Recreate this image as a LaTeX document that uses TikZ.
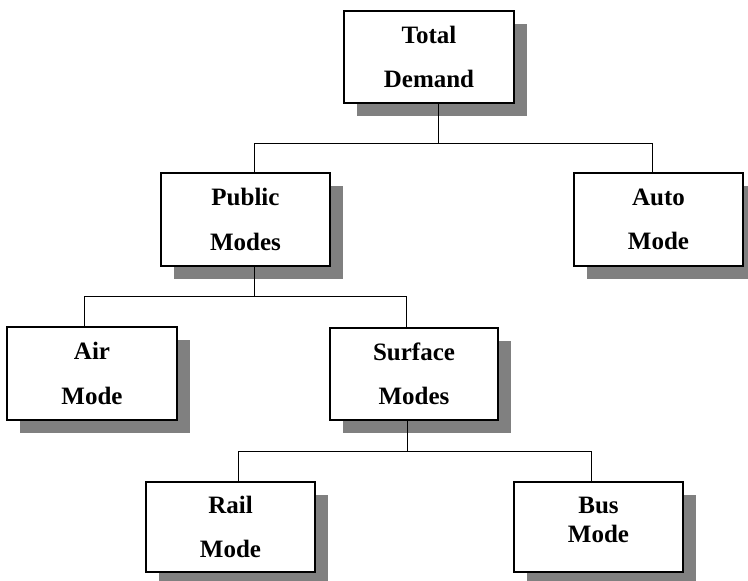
\documentclass[tikz,border=0pt]{standalone}
\usepackage{fontspec}
\setmainfont{Liberation Serif}
\usetikzlibrary{shadows}
\begin{document}
\begin{tikzpicture}[x=1pt,y=-1pt,
  modebox/.style={draw=black, line width=1.2pt, fill=white, inner sep=0pt,
    minimum width=169pt, minimum height=92pt, align=center,
    font=\fontsize{25}{44.5}\selectfont\bfseries,
    drop shadow={shadow xshift=13pt, shadow yshift=-13pt, fill=black!50, opacity=1, draw=none}},
  link/.style={draw=black, line width=1pt}]
\useasboundingbox (0,0) rectangle (748,581);
\node[modebox, minimum width=170pt] (total) at (429,57) {Total\\Demand};
\node[modebox, minimum height=93pt] (public) at (245.5,219.5) {Public\\Modes};
\node[modebox, minimum height=93pt] (auto) at (658.5,219.5) {Auto\\Mode};
\node[modebox, minimum width=170pt, minimum height=93pt] (air) at (92,373.5) {Air\\Mode};
\node[modebox, minimum width=168pt] (surface) at (414,374) {Surface\\Modes};
\node[modebox, minimum height=90pt] (rail) at (230.5,527) {Rail\\Mode};
\node[modebox, minimum height=90pt, font=\fontsize{25}{29}\selectfont\bfseries] (bus) at (598.5,527) {Bus\\Mode\rule[-14pt]{0pt}{14pt}};
% junction coordinates
\coordinate (j1) at (438,143);
\coordinate (j1l) at (254,143);
\coordinate (j1r) at (652,143);
\coordinate (j2) at (254,296);
\coordinate (j2l) at (84,296);
\coordinate (j2r) at (406,296);
\coordinate (j3) at (407,451);
\coordinate (j3l) at (238,451);
\coordinate (j3r) at (591,451);
% connectors
\draw[link] (total.south -| j1) -- (j1);
\draw[link] (public.north -| j1l) -- (j1l) -- (j1r) -- (auto.north -| j1r);
\draw[link] (public.south -| j2) -- (j2);
\draw[link] (air.north -| j2l) -- (j2l) -- (j2r) -- (surface.north -| j2r);
\draw[link] (surface.south -| j3) -- (j3);
\draw[link] (rail.north -| j3l) -- (j3l) -- (j3r) -- (bus.north -| j3r);
\end{tikzpicture}
\end{document}
